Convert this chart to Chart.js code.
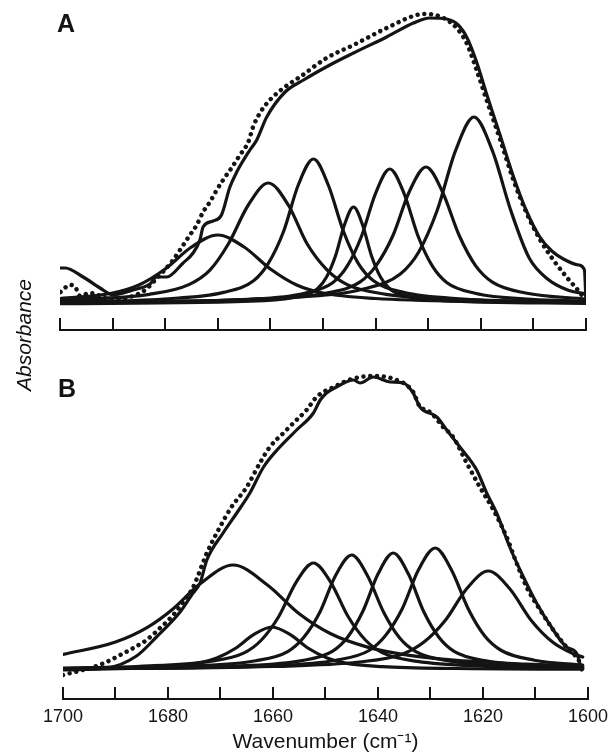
<!DOCTYPE html>
<html><head><meta charset="utf-8">
<script src="https://cdn.jsdelivr.net/npm/chart.js@4.4.1/dist/chart.umd.min.js"></script>
<style>
html,body{margin:0;padding:0;background:#fff;width:615px;height:753px;overflow:hidden;}
#wrap{position:relative;width:615px;height:753px;background:#fff;}
canvas{position:absolute;left:0;}
#cA{top:0;} #cB{top:340px;}
#ylab{position:absolute;left:-46px;top:323px;width:140px;height:24px;line-height:24px;text-align:center;
font-family:'Liberation Sans',Arial,sans-serif;font-size:21px;font-style:italic;color:#111;transform:rotate(-90deg);}
</style></head><body>
<div id="wrap">
<canvas id="cA" width="615" height="345"></canvas>
<canvas id="cB" width="615" height="413"></canvas>
<div id="ylab">Absorbance</div>
</div>
<script>
// ---------- axis ----------
const xTicks = [1700,1690,1680,1670,1660,1650,1640,1630,1620,1610,1600];
const xTickLabels = ['1700','1680','1660','1640','1620','1600'];

// ---------- Panel A : measured (solid) and fitted (dotted) ----------
const A_meas_wn = [1700,1699,1695.6,1692.4,1689.9,1686.1,1682.9,1681.6,1679.7,1676.6,1674.7,1673.4,1672.8,1670.9,1669.3,1667.7,1666.4,1663.9,1662.6,1660.7,1657.2,1653.7,1648.7,1644.2,1637.9,1632.8,1629.7,1626.5,1624.3,1622.6,1620.8,1618.9,1616.4,1613.9,1611.4,1608.9,1606.5,1604.3,1601.4,1600.3,1600];
const A_meas_y  = [0.36,0.36,0.27,0.16,0.09,0.14,0.20,0.27,0.27,0.41,0.51,0.64,0.77,0.83,0.89,1.17,1.32,1.54,1.64,1.87,2.12,2.24,2.39,2.51,2.67,2.81,2.86,2.85,2.79,2.66,2.42,2.10,1.70,1.29,0.94,0.68,0.53,0.45,0.39,0.34,0.02];
const A_fit_wn  = [1699.9,1698.1,1697.1,1696.2,1694.3,1689.9,1686.7,1683.8,1681.9,1678.8,1677.2,1675.3,1674.0,1672.8,1671.5,1670.2,1669.0,1667.4,1665.8,1664.2,1663.3,1662.0,1660.1,1657.5,1654.4,1649.3,1644.2,1637.9,1632.2,1630.3,1627.1,1624.6,1622.7,1620.8,1618.9,1616.3,1613.8,1611.3,1608.7,1606.2,1603.7,1601.1,1600.2];
const A_fit_y   = [0.12,0.19,0.17,0.08,0.11,0.04,0.07,0.14,0.24,0.42,0.54,0.69,0.79,0.92,1.02,1.14,1.24,1.36,1.49,1.62,1.77,1.91,2.04,2.16,2.27,2.46,2.59,2.76,2.89,2.90,2.86,2.76,2.61,2.34,2.04,1.64,1.24,0.91,0.64,0.44,0.27,0.11,0.04];

// ---------- Panel A : component bands ----------
const A1_wn = [1700,1690,1685,1680,1675,1670,1665,1660,1655,1650,1640,1620,1600];
const A1_y  = [0.055,0.11,0.19,0.35,0.57,0.69,0.57,0.35,0.19,0.11,0.055,0.024,0.014];
const A2_wn = [1700,1683,1675.5,1671.5,1668,1664.2,1660.4,1656.6,1653,1649.2,1645.4,1638,1623,1600];
const A2_y  = [0.04,0.097,0.194,0.339,0.60,0.99,1.21,0.99,0.60,0.339,0.194,0.097,0.042,0.018];
const A3_wn = [1700,1680.3,1668.9,1663.2,1660.4,1657.5,1654.7,1651.8,1649,1646.1,1643.3,1640.4,1634.7,1623.3,1600];
const A3_y  = [0.02,0.05,0.116,0.232,0.406,0.725,1.19,1.45,1.19,0.725,0.406,0.232,0.116,0.05,0.018];
const A4_wn = [1700,1661.2,1654.4,1651,1649.3,1647.6,1645.9,1644.2,1642.5,1640.8,1639.1,1637.4,1634,1627.2,1600];
const A4_y  = [0.004,0.034,0.078,0.155,0.272,0.485,0.795,0.97,0.795,0.485,0.272,0.155,0.078,0.034,0.006];
const A5_wn = [1700,1664.3,1653.5,1648.1,1645.4,1642.7,1640,1637.3,1634.6,1631.9,1629.2,1626.5,1621.1,1610.3,1600];
const A5_y  = [0.01,0.047,0.108,0.216,0.378,0.675,1.107,1.35,1.107,0.675,0.378,0.216,0.108,0.047,0.028];
const A6_wn = [1700,1661.9,1649.3,1643,1639.9,1636.7,1633.6,1630.4,1627.3,1624.1,1621,1617.8,1611.5,1600];
const A6_y  = [0.012,0.048,0.11,0.219,0.384,0.685,1.123,1.37,1.123,0.685,0.384,0.219,0.11,0.05];
const A7_wn = [1700,1656.3,1642.3,1635.3,1631.8,1628.3,1624.8,1621.3,1617.8,1614.3,1610.8,1607.3,1603.5,1600];
const A7_y  = [0.014,0.065,0.15,0.30,0.52,0.935,1.533,1.87,1.533,0.935,0.46,0.25,0.14,0.10];

// ---------- Panel B : measured (solid) and fitted (dotted) ----------
const B_meas_wn = [1700,1691.7,1686.0,1682.2,1677.7,1675.5,1673.9,1672.6,1669.5,1666.9,1664.4,1661.8,1658.7,1655.5,1652.3,1651.0,1649.8,1647.9,1644.7,1643.4,1640.9,1637.7,1635.2,1633.3,1632.0,1628.8,1626.9,1624.4,1621.2,1619.3,1617.4,1614.9,1612.3,1609.8,1606.6,1604.1,1602.2,1601.2];
const B_meas_y  = [0.0,0.02,0.14,0.33,0.58,0.75,0.87,1.10,1.37,1.57,1.77,2.03,2.23,2.40,2.57,2.70,2.77,2.83,2.90,2.87,2.93,2.88,2.87,2.77,2.63,2.53,2.40,2.23,2.00,1.77,1.57,1.23,0.93,0.67,0.40,0.23,0.17,0.0];
const B_fit_wn  = [1700,1694.2,1691.7,1689.1,1686.6,1684.1,1681.5,1679.0,1677.1,1675.2,1672.6,1670.1,1667.9,1665.0,1662.5,1660.6,1658.0,1655.5,1653.6,1651.7,1648,1645,1641,1637,1633.3,1632.0,1630.7,1629.5,1627.6,1625.7,1623.1,1620.6,1618.0,1615.5,1613.6,1611.7,1609.1,1606.6,1604.1,1602.2,1601.2];
const B_fit_y   = [-0.05,0.03,0.08,0.15,0.22,0.30,0.42,0.55,0.68,0.83,1.17,1.43,1.63,1.83,2.07,2.23,2.37,2.50,2.60,2.73,2.84,2.91,2.94,2.91,2.78,2.63,2.60,2.55,2.43,2.33,2.07,1.83,1.60,1.33,1.07,0.83,0.60,0.40,0.23,0.13,0.05];

// ---------- Panel B : component bands ----------
const B1_wn = [1700,1690,1684,1679,1674,1667.6,1661,1655,1649,1642,1634,1625,1612,1601];
const B1_y  = [0.155,0.28,0.424,0.613,0.857,1.05,0.848,0.562,0.362,0.229,0.146,0.096,0.059,0.04];
const B2_wn = [1700,1681.2,1674.2,1670.7,1667.2,1663.7,1660.2,1656.7,1653.2,1649.7,1646.2,1639.2,1625.2,1601];
const B2_y  = [0.012,0.034,0.069,0.12,0.215,0.353,0.43,0.353,0.215,0.12,0.069,0.034,0.015,0.008];
const B3_wn = [1700,1685.3,1672.1,1665.5,1662.2,1658.9,1655.6,1652.3,1649,1645.7,1642.4,1639.1,1632.5,1619.3,1601];
const B3_y  = [0.02,0.037,0.086,0.171,0.30,0.535,0.877,1.07,0.877,0.535,0.30,0.171,0.086,0.037,0.016];
const B4_wn = [1700,1675.5,1663.3,1657.2,1654.2,1651.1,1648.1,1645,1642,1638.9,1635.9,1632.8,1626.7,1614.5,1601];
const B4_y  = [0.014,0.04,0.092,0.184,0.322,0.575,0.943,1.15,0.943,0.575,0.322,0.184,0.092,0.04,0.02];
const B5_wn = [1700,1666.1,1654.5,1648.7,1645.8,1642.9,1640,1637.1,1634.2,1631.3,1628.4,1625.5,1619.7,1608.1,1601];
const B5_y  = [0.01,0.041,0.094,0.187,0.328,0.585,0.959,1.17,0.959,0.585,0.328,0.187,0.094,0.041,0.028];
const B6_wn = [1700,1660.6,1648,1641.7,1638.6,1635.4,1632.3,1629.1,1626,1622.8,1619.7,1616.5,1610.2,1601];
const B6_y  = [0.01,0.043,0.098,0.195,0.342,0.61,1.0,1.22,1.0,0.61,0.342,0.195,0.098,0.05];
const B7_wn = [1700,1660,1643.6,1635.4,1631.3,1627.2,1623.1,1619,1614.9,1610.8,1606.7,1602.6,1601];
const B7_y  = [0.01,0.035,0.08,0.158,0.277,0.495,0.812,0.99,0.812,0.495,0.277,0.158,0.13];

// ---------- drawing ----------
const INK = '#141414';
const FONT = "'Liberation Sans', Arial, Helvetica, sans-serif";
function pts(wn, ys){ return wn.map((x,i)=>({x:x, y:ys[i]})); }
function solid(wn, ys){ return {data:pts(wn,ys), borderColor:INK, borderWidth:3.2, pointRadius:0, fill:false, cubicInterpolationMode:'monotone', borderCapStyle:'round', borderJoinStyle:'round'}; }
function dotted(wn, ys){ return {data:pts(wn,ys), borderColor:INK, borderWidth:4.5, pointRadius:0, fill:false, cubicInterpolationMode:'monotone', borderDash:[0.01,6.8], borderCapStyle:'round'}; }

const axisLine = { id:'axisLine', afterDraw(chart){
  const s = chart.scales.x, ctx = chart.ctx, y = s.top + 12;
  ctx.save(); ctx.strokeStyle = INK; ctx.lineWidth = 2;
  ctx.beginPath(); ctx.moveTo(s.getPixelForValue(1700)-1, y); ctx.lineTo(s.getPixelForValue(1600)+1, y); ctx.stroke();
  ctx.restore();
}};
const letter = { id:'letter', afterDraw(chart, args, o){
  const ctx = chart.ctx; ctx.save(); ctx.font = 'bold 25px ' + FONT; ctx.fillStyle = INK;
  ctx.textBaseline = 'alphabetic'; ctx.fillText(o.text, o.x, o.y); ctx.restore();
}};

function makeChart(id, sets, yMin, yMax, pad, scaleH, showLabels, letterOpt){
  return new Chart(document.getElementById(id), {
    type:'line',
    data:{datasets:sets},
    plugins:[axisLine, letter],
    options:{
      responsive:false, animation:false, devicePixelRatio:1,
      layout:{padding:pad},
      plugins:{legend:{display:false}, tooltip:{enabled:false}, letter:letterOpt},
      scales:{
        x:{type:'linear', reverse:true, min:1600, max:1700,
           afterBuildTicks:(s)=>{ s.ticks = xTicks.map(v=>({value:v})); },
           afterFit:(s)=>{ s.height = scaleH; },
           border:{display:false},
           grid:{drawOnChartArea:false, drawTicks:true, tickLength:12, color:INK, lineWidth:2},
           ticks:{display:showLabels, autoSkip:false, maxRotation:0, padding:7, color:INK,
                  font:{family:FONT, size:18},
                  callback:(v)=> xTickLabels.includes(String(v)) ? String(v) : ''},
           title:{display:showLabels, text:'Wavenumber (cm\u207B\u00B9)', color:INK,
                  font:{family:FONT, size:21, lineHeight:1}, padding:0}
        },
        y:{display:false, min:yMin, max:yMax}
      }
    }
  });
}

makeChart('cA', [
  solid(A1_wn,A1_y), solid(A2_wn,A2_y), solid(A3_wn,A3_y), solid(A4_wn,A4_y),
  solid(A5_wn,A5_y), solid(A6_wn,A6_y), solid(A7_wn,A7_y),
  solid(A_meas_wn,A_meas_y), dotted(A_fit_wn,A_fit_y)
], -0.14, 2.94, {left:60, right:29, top:10, bottom:15}, 12, false, {text:'A', x:57, y:32});

makeChart('cB', [
  solid(B1_wn,B1_y), solid(B2_wn,B2_y), solid(B3_wn,B3_y), solid(B4_wn,B4_y),
  solid(B5_wn,B5_y), solid(B6_wn,B6_y), solid(B7_wn,B7_y),
  solid(B_meas_wn,B_meas_y), dotted(B_fit_wn,B_fit_y)
], -0.17, 3.10, {left:63, right:27, top:20, bottom:0}, 66, true, {text:'B', x:58, y:57});
</script>
</body></html>
